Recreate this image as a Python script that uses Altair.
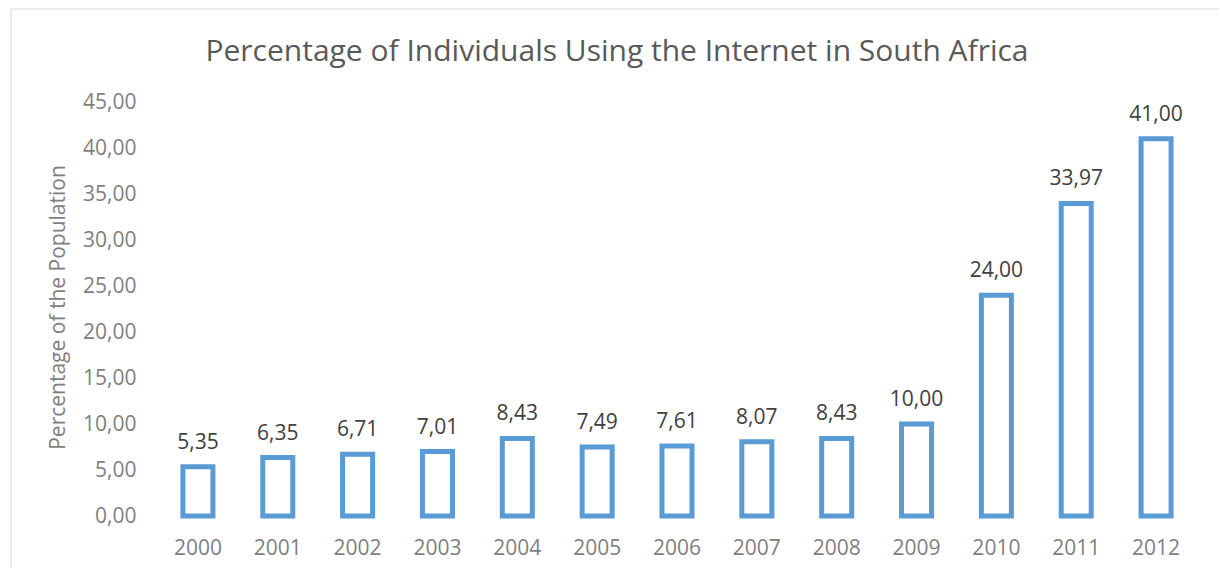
import altair as alt
import pandas as pd

years = ["2000", "2001", "2002", "2003", "2004", "2005", "2006",
         "2007", "2008", "2009", "2010", "2011", "2012"]
values = [5.35, 6.35, 6.71, 7.01, 8.43, 7.49, 7.61, 8.07, 8.43, 10.00, 24.00, 33.97, 41.00]
y_ticks = [0, 5, 10, 15, 20, 25, 30, 35, 40, 45]
title_text = "Percentage of Individuals Using the Internet in South Africa"
y_title = "Percentage of the Population"

df = pd.DataFrame({"Year": years, "Value": values})
df["Label"] = [f"{v:.2f}".replace(".", ",") for v in values]

FONT = "Open Sans"
W, H = 1038, 414
LEFT = 157

x = alt.X(
    "Year:N", sort=years, title=None,
    scale=alt.Scale(paddingInner=0.624, paddingOuter=0.312),
    axis=alt.Axis(labelAngle=0, labelFont=FONT, labelFontSize=21, labelColor="#7f7f7f",
                  labelPadding=21, ticks=False, tickSize=0, domain=False, grid=False),
)
y = alt.Y(
    "Value:Q", title=y_title,
    scale=alt.Scale(domain=[0, 45], nice=False, zero=True),
    axis=alt.Axis(values=y_ticks,
                  labelExpr="replace(format(datum.value, '.2f'), '.', ',')",
                  labelFont=FONT, labelFontSize=21, labelColor="#7f7f7f",
                  labelPadding=22, ticks=False, tickSize=0, domain=False, grid=False,
                  titleFont=FONT, titleFontSize=21, titleFontWeight="normal",
                  titleColor="#7f7f7f", titleX=67 - LEFT, titleY=205,
                  titleBaseline="bottom", titleAlign="center", titleAngle=270),
)

base = alt.Chart(df)
bars = base.mark_bar(fill="white", stroke="#5B9BD5", strokeWidth=5).encode(x=x, y=y)
labels = base.mark_text(baseline="alphabetic", dy=-18, font=FONT, fontSize=21,
                        color="#404040").encode(x=alt.X("Year:N", sort=years), y="Value:Q",
                                                text="Label:N")

one = pd.DataFrame({"t": [title_text]})
title = alt.Chart(one).mark_text(font=FONT, fontSize=30, color="#595959",
                                 baseline="alphabetic", align="center").encode(
    x=alt.value(616 - LEFT), y=alt.value(-41), text="t:N")

frame_top = alt.Chart(one).mark_rule(color="#d9d9d9", strokeWidth=1).encode(
    x=alt.value(10 - LEFT), x2=alt.value(1218 - LEFT), y=alt.value(-93))
frame_left = alt.Chart(one).mark_rule(color="#d9d9d9", strokeWidth=1).encode(
    x=alt.value(10 - LEFT), y=alt.value(-93), y2=alt.value(466))

chart = alt.layer(frame_top, frame_left, bars, labels, title).properties(
    width=W, height=H,
    padding={"left": 10, "top": 8, "right": 0, "bottom": 0},
    background="white",
).configure_view(strokeWidth=0)

chart.save("out.html", embed_options={"renderer": "svg", "actions": False})
